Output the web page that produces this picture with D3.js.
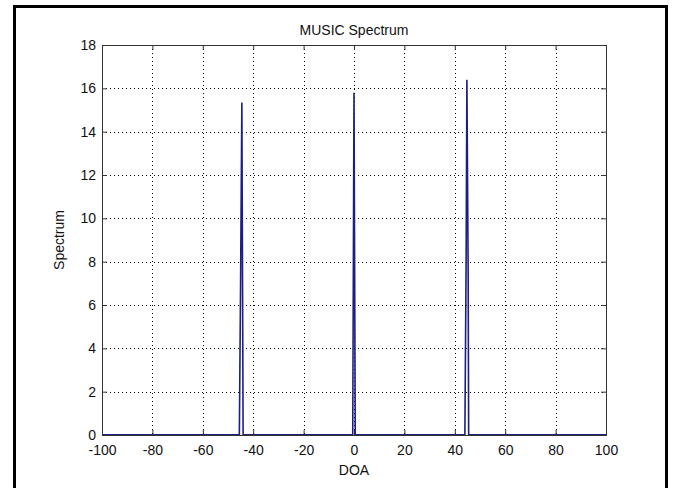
<!DOCTYPE html>
<html>
<head>
<meta charset="utf-8">
<script src="https://cdn.jsdelivr.net/npm/d3@7"></script>
<style>
  body { margin: 0; background: #fff; }
  text { font-family: "Liberation Sans", Arial, sans-serif; fill: #111; }
</style>
</head>
<body>
<div class="chart"></div>
<script>
// MUSIC spectrum: DOA (deg) vs spectrum
const doa = [-100, -45.5, -45, -44.5, -44, -0.5, 0, 0.5, 44, 44.5, 44.8, 45.3, 45.5, 100];
const spectrum = [0.01, 0.01, 7.1, 15.35, 0.01, 0.01, 15.8, 0.01, 0.01, 8.2, 16.4, 7.6, 0.01, 0.01];
const xTicks = [-100, -80, -60, -40, -20, 0, 20, 40, 60, 80, 100];
const yTicks = [0, 2, 4, 6, 8, 10, 12, 14, 16, 18];

// margin convention
const margin = { top: 45, right: 68, bottom: 53, left: 102 };
const W = 674, H = 488;
const width = W - margin.left - margin.right,
  height = H - margin.top - margin.bottom;

const root = d3.select(".chart")
  .append("svg")
  .attr("width", W)
  .attr("height", H);

root.append("rect").attr("width", W).attr("height", H).attr("fill", "#fff");

// outer frame round the figure (no bottom edge in the picture)
root.append("rect")
  .attr("x", 14.5).attr("y", 6.5)
  .attr("width", 652).attr("height", 500)
  .attr("fill", "none")
  .attr("stroke", "#000")
  .attr("stroke-width", 3);

const svg = root.append("g")
  .attr("transform", "translate(" + margin.left + "," + margin.top + ")");

const x = d3.scaleLinear().domain([-100, 100]).range([0, width]);
const y = d3.scaleLinear().domain([0, 18]).range([height, 0]);

// grid
svg.append("g").attr("class", "grid")
  .selectAll("line.gx")
  .data(xTicks.slice(1, -1))
  .enter().append("line")
  .attr("x1", d => Math.round(x(d)) + 0.5).attr("x2", d => Math.round(x(d)) + 0.5)
  .attr("y1", 0).attr("y2", height)
  .attr("stroke", "#000").attr("stroke-dasharray", "1,3");

svg.append("g").attr("class", "grid")
  .selectAll("line.gy")
  .data(yTicks.slice(1, -1))
  .enter().append("line")
  .attr("y1", d => Math.round(y(d)) + 0.5).attr("y2", d => Math.round(y(d)) + 0.5)
  .attr("x1", 0).attr("x2", width)
  .attr("stroke", "#000").attr("stroke-dasharray", "1,3");

// spectrum line
const pts = doa.map((d, i) => [d, spectrum[i]]);
const line = d3.line().x(d => x(d[0])).y(d => y(d[1]));
svg.append("path")
  .datum(pts)
  .attr("d", line)
  .attr("fill", "none")
  .attr("stroke", "#1a1f86")
  .attr("stroke-width", 1.6)
  .attr("stroke-linejoin", "miter");

// axes drawn over the data: ticks point inward, box on
// plain hyphen for negatives, like the original
const fmt = d => String(d);
const xAxis = d3.axisBottom(x).tickValues(xTicks).tickSize(-5).tickPadding(10).tickFormat(fmt);
const yAxis = d3.axisLeft(y).tickValues(yTicks).tickSize(-5).tickPadding(10).tickFormat(fmt);
const xTop = d3.axisTop(x).tickValues(xTicks).tickSize(-5).tickFormat("");
const yRight = d3.axisRight(y).tickValues(yTicks).tickSize(-5).tickFormat("");

svg.append("g").attr("class", "axis x-axis")
  .attr("transform", `translate(0, ${height})`).call(xAxis);
svg.append("g").attr("class", "axis y-axis").call(yAxis);
svg.append("g").attr("class", "axis").call(xTop);
svg.append("g").attr("class", "axis")
  .attr("transform", `translate(${width}, 0)`).call(yRight);

svg.selectAll(".axis path, .axis line").attr("stroke", "#333");
svg.selectAll(".axis text")
  .style("font-family", "'Liberation Sans', Arial, sans-serif")
  .style("font-size", "14px")
  .attr("fill", "#111");
svg.selectAll(".y-axis text").attr("x", -6);

// titles
svg.append("text")
  .attr("x", width / 2).attr("y", -10)
  .attr("text-anchor", "middle")
  .style("font-size", "14px")
  .text("MUSIC Spectrum");

svg.append("text")
  .attr("x", width / 2).attr("y", height + 40)
  .attr("text-anchor", "middle")
  .style("font-size", "14px")
  .text("DOA");

svg.append("text")
  .attr("transform", `translate(-38, ${height / 2}) rotate(-90)`)
  .attr("text-anchor", "middle")
  .style("font-size", "14px")
  .text("Spectrum");
</script>
</body>
</html>
